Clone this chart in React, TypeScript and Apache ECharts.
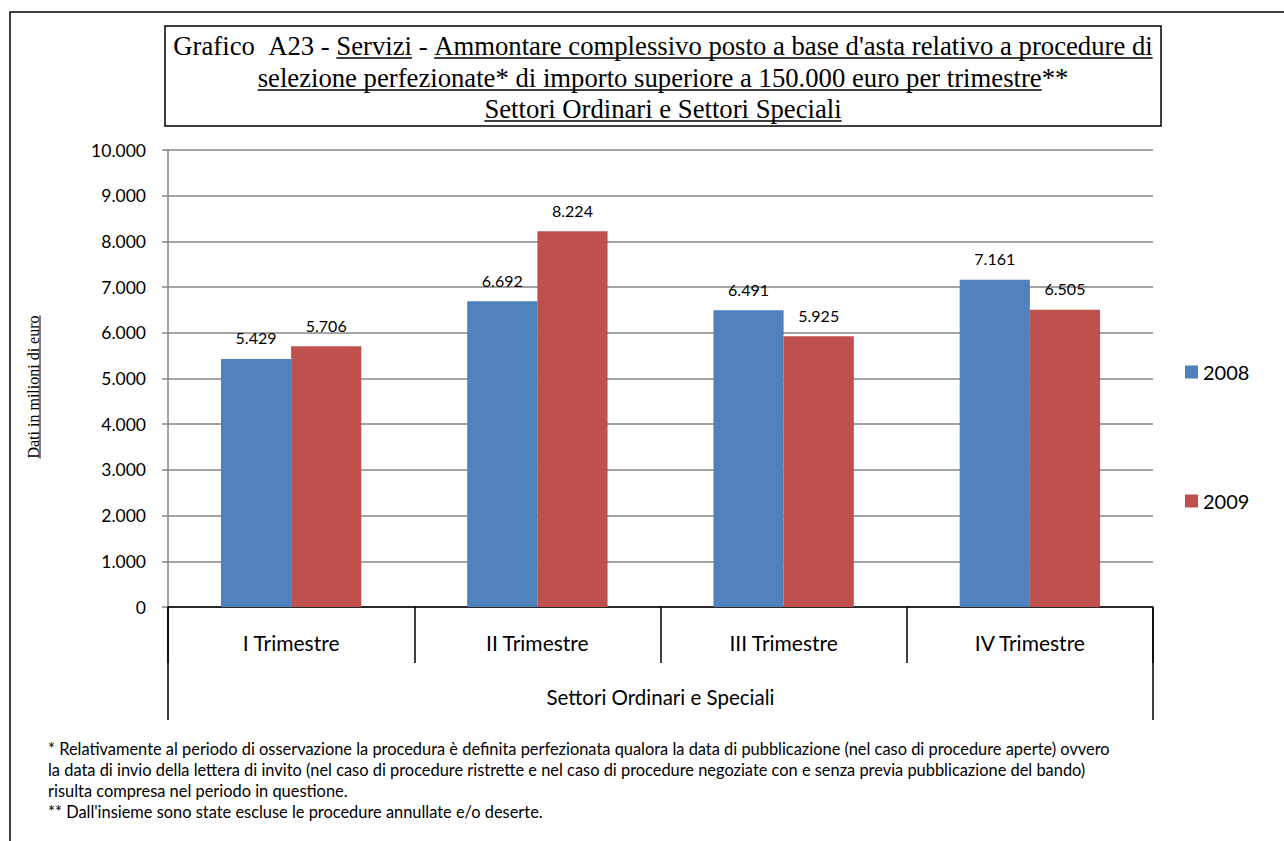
import React, { useEffect, useRef } from "react";
import * as echarts from "echarts";

const categories = ["I Trimestre", "II Trimestre", "III Trimestre", "IV Trimestre"];
const outerCategory = ["Settori Ordinari e Speciali"];
const seriesNames = ["2008", "2009"];
const values2008 = [5429, 6692, 6491, 7161];
const values2009 = [5706, 8224, 5925, 6505];
const yMin = 0;
const yMax = 10000;
const yInterval = 1000;

const titleLine1 = [
  { t: "Grafico", u: false },
  { t: "  A23 - ", u: false },
  { t: "Servizi", u: true },
  { t: " - ", u: false },
  { t: "Ammontare complessivo posto a base d'asta relativo a procedure di", u: true },
];
const titleLine2 = [
  { t: "selezione perfezionate* di importo superiore a 150.000 euro per trimestre", u: true },
  { t: "**", u: false },
];
const titleLine3 = [{ t: "Settori Ordinari e Settori Speciali", u: true }];
const yAxisTitle = "Dati in milioni di euro";
const footnotes = [
  "* Relativamente al periodo di osservazione la procedura è definita perfezionata qualora la data di pubblicazione (nel caso di procedure aperte) ovvero",
  "la data di invio della lettera di invito (nel caso di procedure ristrette e nel caso di procedure negoziate con e senza previa pubblicazione del bando)",
  "risulta compresa nel periodo in questione.",
  "** Dall'insieme sono state escluse le procedure annullate e/o deserte.",
];

const SANS = "Lato";
const SERIF = '"Liberation Serif"';

function fmt(v: number): string {
  return String(Math.round(v)).replace(/\B(?=(\d{3})+(?!\d))/g, ".");
}

let ctx: CanvasRenderingContext2D | null = null;
function measure(text: string, font: string): number {
  if (!ctx) ctx = document.createElement("canvas").getContext("2d");
  if (!ctx) return text.length * 10;
  ctx.font = font;
  return ctx.measureText(text).width;
}

function buildLine(parts: { t: string; u: boolean }[], cx: number, cy: number, font: string, ulOff: number) {
  const els: any[] = [];
  const full = parts.map((p) => p.t).join("");
  const total = measure(full, font);
  const x0 = cx - total / 2;
  let prefix = "";
  for (const p of parts) {
    const lead = (p.t.match(/^\s*/) || [""])[0];
    const core = p.t.trim();
    if (core) {
      const x = x0 + measure(prefix + lead, font);
      const w = measure(core, font);
      els.push({
        type: "text",
        x,
        y: cy,
        style: { text: core, font, fill: "#000", textAlign: "left", textVerticalAlign: "middle" },
      });
      if (p.u) {
        els.push({
          type: "line",
          shape: { x1: x, y1: cy + ulOff, x2: x + w, y2: cy + ulOff },
          style: { stroke: "#000", lineWidth: 1.3 },
        });
      }
    }
    prefix += p.t;
  }
  return els;
}

export default function App() {
  const ref = useRef<HTMLDivElement>(null);
  useEffect(() => {
    if (!ref.current) return;
    const chart = echarts.init(ref.current, null, { renderer: "svg" });
    const titleFont = `26.7px ${SERIF}`;
    const yTitleFont = `16px ${SERIF}`;
    const yTitleW = measure(yAxisTitle, yTitleFont);
    const graphic: any[] = [
      {
        type: "rect",
        shape: { x: 10, y: 12, width: 1300, height: 900 },
        style: { fill: "none", stroke: "#000", lineWidth: 1.5 },
        silent: true,
      },
      {
        type: "rect",
        shape: { x: 165, y: 26, width: 996, height: 100 },
        style: { fill: "#fff", stroke: "#000", lineWidth: 1.5 },
      },
      ...buildLine(titleLine1, 663, 46, titleFont, 12),
      ...buildLine(titleLine2, 663, 78, titleFont, 12),
      ...buildLine(titleLine3, 663, 109, titleFont, 12),
      {
        type: "text",
        x: 33,
        y: 387,
        rotation: Math.PI / 2,
        style: { text: yAxisTitle, font: yTitleFont, fill: "#000", textAlign: "center", textVerticalAlign: "middle" },
      },
      {
        type: "line",
        shape: { x1: 40, y1: 387 - yTitleW / 2, x2: 40, y2: 387 + yTitleW / 2 },
        style: { stroke: "#000", lineWidth: 1 },
      },
      ...footnotes.map((t, i) => ({
        type: "text",
        x: 48,
        y: 748 + i * 21,
        style: { text: t, font: `16.4px ${SANS}`, fill: "#000", textAlign: "left", textVerticalAlign: "middle" },
      })),
    ];

    chart.setOption({
      animation: false,
      backgroundColor: "#fff",
      color: ["#4F81BD", "#C0504D"],
      grid: { left: 168, top: 150, right: 131, bottom: 234, containLabel: false },
      legend: {
        orient: "vertical",
        left: 1185,
        top: 362,
        padding: 0,
        itemGap: 109,
        itemWidth: 13,
        itemHeight: 13,
        icon: "rect",
        data: seriesNames,
        textStyle: { fontFamily: SANS, fontSize: 20, color: "#000" },
      },
      xAxis: [
        {
          type: "category",
          data: categories,
          position: "bottom",
          axisLine: { show: true, lineStyle: { color: "#000", width: 1.5 } },
          axisTick: { show: true, length: 56, interval: 0, lineStyle: { color: "#000", width: 1.5 } },
          axisLabel: { fontFamily: SANS, fontSize: 21, color: "#000", margin: 25, interval: 0 },
          splitLine: { show: false },
        },
        {
          type: "category",
          data: outerCategory,
          position: "bottom",
          offset: 0,
          axisLine: { show: false },
          axisTick: { show: true, length: 113, lineStyle: { color: "#000", width: 1.5 } },
          axisLabel: { fontFamily: SANS, fontSize: 20.5, color: "#000", margin: 79 },
          splitLine: { show: false },
        },
      ],
      yAxis: {
        type: "value",
        min: yMin,
        max: yMax,
        interval: yInterval,
        axisLine: { show: true, lineStyle: { color: "#868686", width: 1.5 } },
        axisTick: { show: true, length: 6, lineStyle: { color: "#868686", width: 1.5 } },
        axisLabel: { fontFamily: SANS, fontSize: 17.5, color: "#000", margin: 22, formatter: (v: number) => fmt(v) },
        splitLine: { show: true, lineStyle: { color: "#868686", width: 1.5 } },
      },
      series: [
        {
          name: seriesNames[0],
          type: "bar",
          xAxisIndex: 0,
          data: values2008,
          barGap: "0%",
          barCategoryGap: "43%",
          label: {
            show: true,
            position: "top",
            distance: 13,
            fontFamily: SANS,
            fontSize: 16,
            color: "#000",
            formatter: (p: any) => fmt(p.value),
          },
        },
        {
          name: seriesNames[1],
          type: "bar",
          xAxisIndex: 0,
          data: values2009,
          barGap: "0%",
          barCategoryGap: "43%",
          label: {
            show: true,
            position: "top",
            distance: 13,
            fontFamily: SANS,
            fontSize: 16,
            color: "#000",
            formatter: (p: any) => fmt(p.value),
          },
        },
      ],
      graphic,
    });
    return () => chart.dispose();
  }, []);
  return (
    <div
      ref={ref}
      style={{ position: "absolute", left: 0, top: 0, width: 1284, height: 841, background: "#fff" }}
    />
  );
}
